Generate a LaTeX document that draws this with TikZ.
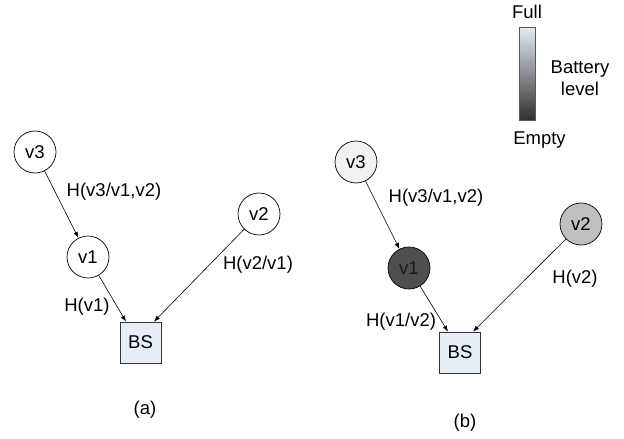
\documentclass[tikz,border=0pt]{standalone}
\usepackage{fontspec}
\setmainfont{Liberation Sans}
\usetikzlibrary{arrows.meta}
\definecolor{bsfill}{HTML}{E8EEF8}
\definecolor{fullc}{HTML}{E4EAF4}
\definecolor{emptyc}{HTML}{303030}
\begin{document}
\begin{tikzpicture}[x=1pt,y=-1pt,
  every node/.style={font=\fontsize{18.5}{22}\selectfont},
  vnode/.style={circle,draw=black,line width=0.7pt,minimum size=42pt,inner sep=0pt,fill=white},
  bsnode/.style={rectangle,draw=black!80,line width=0.7pt,minimum size=41pt,inner sep=0pt,fill=bsfill},
  link/.style={-{Latex[length=6pt,width=4.5pt]},line width=0.6pt,black},
  lbl/.style={inner sep=0pt}]
\useasboundingbox (0,0) rectangle (624,439);
% panel (a)
\node[vnode] (a3) at (35,152) {v3};
\node[vnode] (a1) at (88,257) {v1};
\node[vnode] (a2) at (259,214) {v2};
\node[bsnode] (abs) at (140.5,342.5) {BS};
\draw[link] (a3) -- (a1);
\draw[link] (a1) -- (abs.north west -| 126,0);
\draw[link] (a2) -- (abs.north east -| 154,0);
\node[lbl] (la31) at (114,192) {H(v3/v1,v2)};
\node[lbl] (la2) at (258,265) {H(v2/v1)};
\node[lbl] (la1) at (87,307) {H(v1)};
\node[lbl] (capa) at (145,410) {(a)};
% panel (b)
\node[vnode,fill=black!5] (b3) at (356,162) {v3};
\node[vnode,fill=black!69,text=black!90] (b1) at (409,268) {v1};
\node[vnode,fill=black!25] (b2) at (581,224) {v2};
\node[bsnode] (bbs) at (460,352.5) {BS};
\draw[link] (b3) -- (b1);
\draw[link] (b1) -- (bbs.north west -| 448,0);
\draw[link] (b2) -- (bbs.north east -| 473,0);
\node[lbl] (lb31) at (436,198) {H(v3/v1,v2)};
\node[lbl] (lb2) at (575,279) {H(v2)};
\node[lbl] (lb1) at (401,322) {H(v1/v2)};
\node[lbl] (capb) at (465,423) {(b)};
% battery legend
\node[rectangle,minimum width=16pt,minimum height=93pt,inner sep=0pt,
  top color=fullc,bottom color=emptyc,draw=black!65,line width=0.7pt] (bar) at (527.5,73.5) {};
\node[lbl] (full) at (527,12) {Full};
\node[lbl] (empty) at (539.5,140) {Empty};
\node[lbl,align=center] (blev) at (580,78) {Battery\\level};
\end{tikzpicture}
\end{document}
